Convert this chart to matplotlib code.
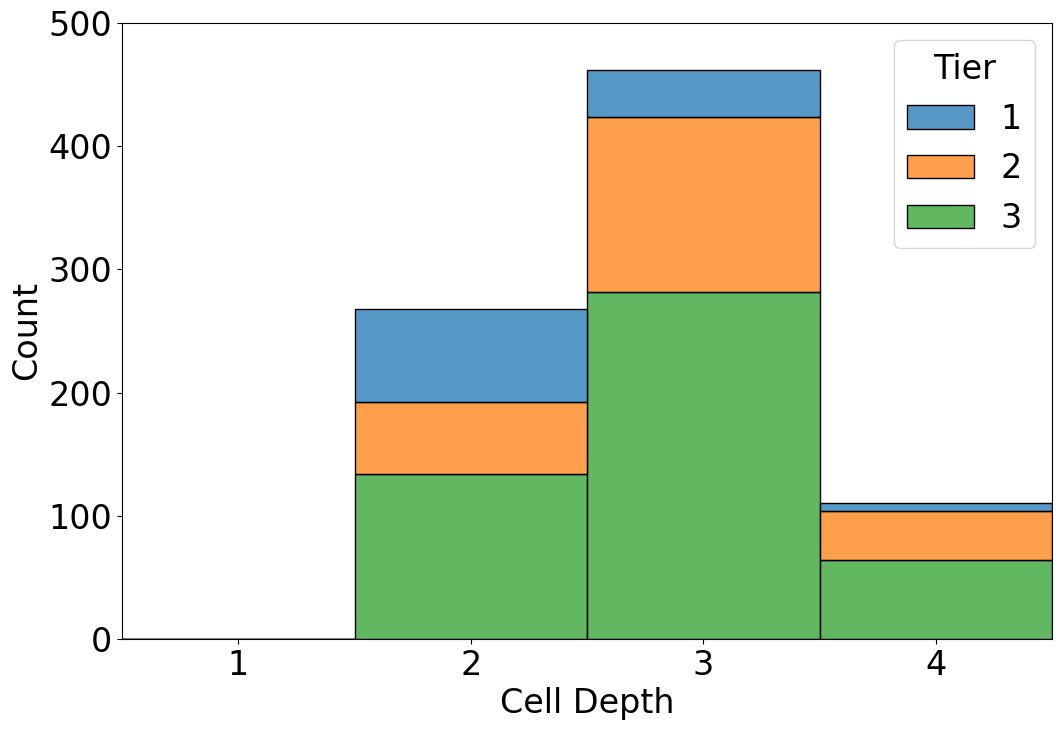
import numpy as np
import matplotlib
matplotlib.use("Agg")
import matplotlib.pyplot as plt
from matplotlib.patches import Patch

# counts per cell depth, stacked by tier
depths = [1, 2, 3, 4]
tiers = ["1", "2", "3"]
tier1 = [0, 76, 38, 6]
tier2 = [0, 58, 142, 40]
tier3 = [0, 134, 282, 64]

colors = {"1": "#1f77b4", "2": "#ff7f0e", "3": "#2ca02c"}
alpha = 0.75

fig = plt.figure(figsize=(10.62, 7.3), dpi=100)
ax = fig.add_axes([0.1149, 0.1247, 0.8757, 0.8438])

bottom = np.zeros(len(depths))
for name, vals in [("3", tier3), ("2", tier2), ("1", tier1)]:
    vals = np.array(vals, dtype=float)
    ax.bar(depths, vals, width=1.0, bottom=bottom,
           facecolor=matplotlib.colors.to_rgba(colors[name], alpha),
           edgecolor="black", linewidth=1.0)
    bottom += vals

ax.set_xlim(0.5, 4.5)
ax.set_ylim(0, 500)
ax.set_xticks(depths)
ax.set_yticks([0, 100, 200, 300, 400, 500])
ax.tick_params(labelsize=24)
ax.set_xlabel("Cell Depth", fontsize=24)
ax.set_ylabel("Count", fontsize=24)

handles = [Patch(facecolor=matplotlib.colors.to_rgba(colors[t], alpha),
                 edgecolor="black") for t in tiers]
ax.legend(handles, tiers, title="Tier", fontsize=24, title_fontsize=24,
          loc="upper right")

fig.savefig("out.png", dpi=100)
